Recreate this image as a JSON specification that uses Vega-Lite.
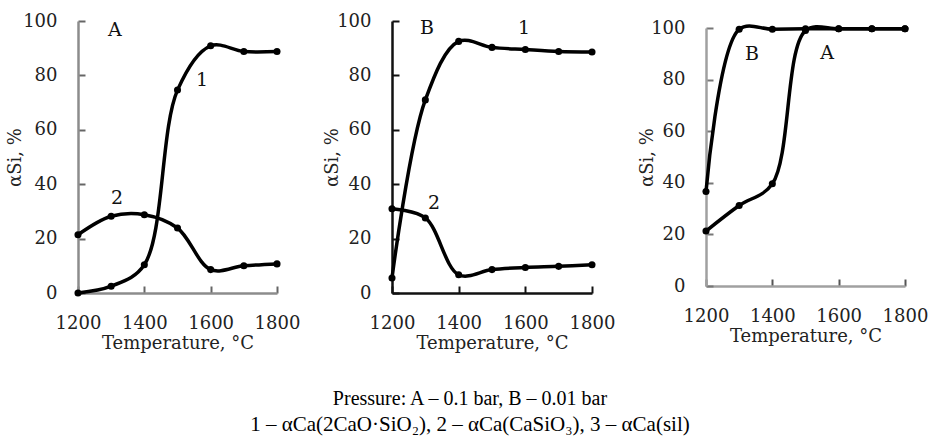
{
  "$schema": "https://vega.github.io/schema/vega-lite/v6.json",
  "background": "white",
  "padding": {"left": 6, "top": 12, "right": 5, "bottom": 5},
  "center": true,
  "spacing": 23,
  "datasets": {
    "curves": [
      {"panel": "A", "series": "1", "T": 1200, "v": 0},
      {"panel": "A", "series": "1", "T": 1300, "v": 2.5},
      {"panel": "A", "series": "1", "T": 1400, "v": 10.4},
      {"panel": "A", "series": "1", "T": 1500, "v": 74.6},
      {"panel": "A", "series": "1", "T": 1600, "v": 90.9},
      {"panel": "A", "series": "1", "T": 1700, "v": 88.8},
      {"panel": "A", "series": "1", "T": 1800, "v": 88.8},
      {"panel": "A", "series": "2", "T": 1200, "v": 21.4},
      {"panel": "A", "series": "2", "T": 1300, "v": 28.2},
      {"panel": "A", "series": "2", "T": 1400, "v": 28.8},
      {"panel": "A", "series": "2", "T": 1500, "v": 23.9},
      {"panel": "A", "series": "2", "T": 1600, "v": 8.6},
      {"panel": "A", "series": "2", "T": 1700, "v": 10},
      {"panel": "A", "series": "2", "T": 1800, "v": 10.7},
      {"panel": "B", "series": "1", "T": 1200, "v": 5.5},
      {"panel": "B", "series": "1", "T": 1300, "v": 71},
      {"panel": "B", "series": "1", "T": 1400, "v": 92.5},
      {"panel": "B", "series": "1", "T": 1500, "v": 90.3},
      {"panel": "B", "series": "1", "T": 1600, "v": 89.5},
      {"panel": "B", "series": "1", "T": 1700, "v": 88.8},
      {"panel": "B", "series": "1", "T": 1800, "v": 88.6},
      {"panel": "B", "series": "2", "T": 1200, "v": 31},
      {"panel": "B", "series": "2", "T": 1300, "v": 27.6},
      {"panel": "B", "series": "2", "T": 1400, "v": 6.7},
      {"panel": "B", "series": "2", "T": 1500, "v": 8.6},
      {"panel": "B", "series": "2", "T": 1600, "v": 9.4},
      {"panel": "B", "series": "2", "T": 1700, "v": 9.8},
      {"panel": "B", "series": "2", "T": 1800, "v": 10.4},
      {"panel": "C", "series": "B", "T": 1200, "v": 36.6},
      {"panel": "C", "series": "B", "T": 1300, "v": 99.5},
      {"panel": "C", "series": "B", "T": 1400, "v": 99.5},
      {"panel": "C", "series": "B", "T": 1500, "v": 99.7},
      {"panel": "C", "series": "B", "T": 1600, "v": 99.7},
      {"panel": "C", "series": "B", "T": 1700, "v": 99.7},
      {"panel": "C", "series": "B", "T": 1800, "v": 99.7},
      {"panel": "C", "series": "A", "T": 1200, "v": 21.3},
      {"panel": "C", "series": "A", "T": 1300, "v": 31.2},
      {"panel": "C", "series": "A", "T": 1400, "v": 39.6},
      {"panel": "C", "series": "A", "T": 1500, "v": 99},
      {"panel": "C", "series": "A", "T": 1600, "v": 99.7},
      {"panel": "C", "series": "A", "T": 1700, "v": 99.7},
      {"panel": "C", "series": "A", "T": 1800, "v": 99.7}
    ],
    "labels": [
      {"panel": "A", "T": 1311, "v": 96.7, "text": "A"},
      {"panel": "A", "T": 1574, "v": 78.3, "text": "1"},
      {"panel": "A", "T": 1318, "v": 35, "text": "2"},
      {"panel": "B", "T": 1305, "v": 97.4, "text": "B"},
      {"panel": "B", "T": 1596, "v": 97.4, "text": "1"},
      {"panel": "B", "T": 1326, "v": 33, "text": "2"},
      {"panel": "C", "T": 1339, "v": 90, "text": "B"},
      {"panel": "C", "T": 1565, "v": 90.5, "text": "A"}
    ]
  },
  "config": {
    "font": "DejaVu Serif",
    "view": {"stroke": null},
    "axis": {
      "grid": false,
      "labelFont": "DejaVu Serif",
      "labelFontSize": 18,
      "labelColor": "#222",
      "titleFont": "DejaVu Serif",
      "titleFontSize": 18,
      "titleFontWeight": "normal",
      "titleColor": "#222",
      "tickSize": -7,
      "tickWidth": 2,
      "domainWidth": 2.5,
      "format": "d"
    }
  },
  "title": {
    "text": "Pressure: A – 0.1 bar, B – 0.01 bar",
    "subtitle": "1 – αCa(2CaO·SiO₂), 2 – αCa(CaSiO₃), 3 – αCa(sil)",
    "orient": "bottom",
    "anchor": "middle",
    "dx": 3,
    "font": "Liberation Serif",
    "fontSize": 20,
    "fontWeight": "normal",
    "color": "#000",
    "subtitleFont": "Liberation Serif",
    "subtitleFontSize": 21,
    "subtitleColor": "#000",
    "subtitlePadding": 5,
    "offset": 37
  },
  "hconcat": [
    {
      "width": 199,
      "height": 272,
      "layer": [
        {
          "data": {"name": "curves"},
          "transform": [{"filter": "datum.panel === 'A'"}],
          "mark": {"type": "line", "interpolate": "catmull-rom", "color": "#000", "strokeWidth": 3.5, "point": {"filled": true, "size": 50, "color": "#000"}},
          "encoding": {
            "x": {"field": "T", "type": "quantitative", "scale": {"domain": [1200, 1800]},
              "axis": {"values": [1200, 1400, 1600, 1800], "title": "Temperature, °C", "labelFlush": false, "labelPadding": 28, "titleBaseline": "middle", "titleY": 50, "domainColor": "#8c8c8c", "tickColor": "#666"}},
            "y": {"field": "v", "type": "quantitative", "scale": {"domain": [0, 100]},
              "axis": {"values": [0, 20, 40, 60, 80, 100], "title": "αSi, %", "labelPadding": 28, "titleX": -63, "titleBaseline": "middle", "domainColor": "#8c8c8c", "tickColor": "#666"}},
            "detail": {"field": "series"}
          }
        },
        {
          "data": {"name": "labels"},
          "transform": [{"filter": "datum.panel === 'A'"}],
          "mark": {"type": "text", "font": "DejaVu Serif", "fontSize": 19, "color": "#111"},
          "encoding": {
            "x": {"field": "T", "type": "quantitative"},
            "y": {"field": "v", "type": "quantitative"},
            "text": {"field": "text"}
          }
        }
      ]
    },
    {
      "width": 200,
      "height": 272,
      "layer": [
        {
          "data": {"name": "curves"},
          "transform": [{"filter": "datum.panel === 'B'"}],
          "mark": {"type": "line", "interpolate": "catmull-rom", "color": "#000", "strokeWidth": 3.5, "point": {"filled": true, "size": 50, "color": "#000"}},
          "encoding": {
            "x": {"field": "T", "type": "quantitative", "scale": {"domain": [1200, 1800]},
              "axis": {"values": [1200, 1400, 1600, 1800], "title": "Temperature, °C", "labelFlush": false, "labelPadding": 28, "titleBaseline": "middle", "titleY": 50, "domainColor": "#111", "tickColor": "#111"}},
            "y": {"field": "v", "type": "quantitative", "scale": {"domain": [0, 100]},
              "axis": {"values": [0, 20, 40, 60, 80, 100], "title": "αSi, %", "labelPadding": 28, "titleX": -60, "titleBaseline": "middle", "domainColor": "#111", "tickColor": "#111"}},
            "detail": {"field": "series"}
          }
        },
        {
          "data": {"name": "labels"},
          "transform": [{"filter": "datum.panel === 'B'"}],
          "mark": {"type": "text", "font": "DejaVu Serif", "fontSize": 19, "color": "#111"},
          "encoding": {
            "x": {"field": "T", "type": "quantitative"},
            "y": {"field": "v", "type": "quantitative"},
            "text": {"field": "text"}
          }
        }
      ]
    },
    {
      "width": 199,
      "height": 258,
      "layer": [
        {
          "data": {"name": "curves"},
          "transform": [{"filter": "datum.panel === 'C'"}],
          "mark": {"type": "line", "interpolate": "catmull-rom", "color": "#000", "strokeWidth": 3.5, "point": {"filled": true, "size": 50, "color": "#000"}},
          "encoding": {
            "x": {"field": "T", "type": "quantitative", "scale": {"domain": [1200, 1800]},
              "axis": {"values": [1200, 1400, 1600, 1800], "title": "Temperature, °C", "labelFlush": false, "labelPadding": 28, "titleBaseline": "middle", "titleY": 50, "domainColor": "#a0a0a0", "tickColor": "#555"}},
            "y": {"field": "v", "type": "quantitative", "scale": {"domain": [0, 100]},
              "axis": {"values": [0, 20, 40, 60, 80, 100], "title": "αSi, %", "labelPadding": 28, "titleX": -59, "titleBaseline": "middle", "domainColor": "#a0a0a0", "tickColor": "#777"}},
            "detail": {"field": "series"}
          }
        },
        {
          "data": {"name": "labels"},
          "transform": [{"filter": "datum.panel === 'C'"}],
          "mark": {"type": "text", "font": "DejaVu Serif", "fontSize": 19, "color": "#111"},
          "encoding": {
            "x": {"field": "T", "type": "quantitative"},
            "y": {"field": "v", "type": "quantitative"},
            "text": {"field": "text"}
          }
        }
      ]
    }
  ]
}
